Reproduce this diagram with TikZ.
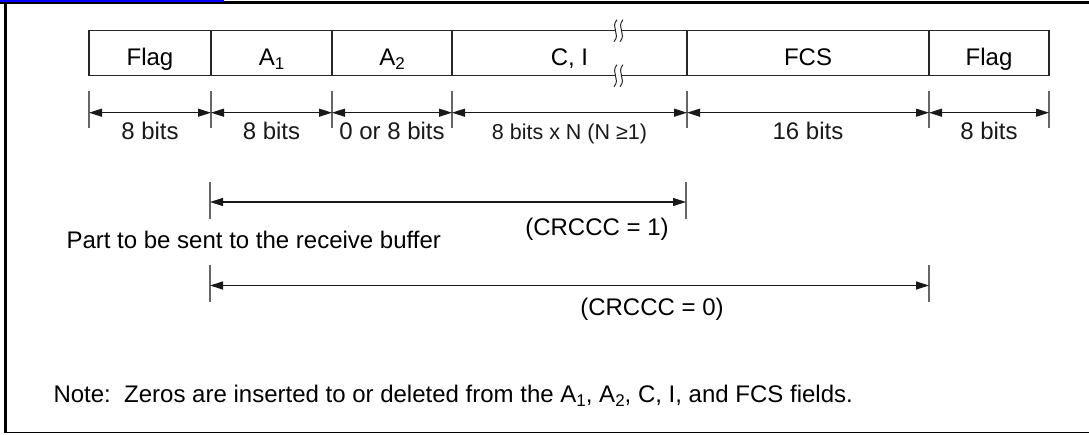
\documentclass[tikz,border=0pt]{standalone}
\usepackage{fontspec}
\setmainfont{Liberation Sans}
\usetikzlibrary{arrows.meta}

\newcommand{\bajo}[1]{\raisebox{-4.5pt}{\fontsize{17}{20}\selectfont #1}}

\begin{document}
\begin{tikzpicture}[x=1pt, y=-1pt,
    campo/.style={draw=black!85, line width=1.3pt, minimum height=45pt, inner sep=0pt,
        text height=24pt, text depth=0pt, font=\fontsize{24}{28}\selectfont},
    marca/.style={draw=black!60, line width=1.2pt},
    cota/.style={{Triangle[length=13pt,width=8pt]}-{Triangle[length=13pt,width=8pt]}, line width=1.2pt, black!90},
    etq/.style={anchor=base, font=\fontsize{24}{28}\selectfont},
    corte/.style={line width=1pt, black!85}]

    \useasboundingbox (0,0) rectangle (1089,435);

    % Marco
    \draw[line width=3pt] (5.3,433) -- (5.3,1.5);
    \draw[line width=3pt] (0,3) -- (1089,3);
    \draw[blue, line width=2pt] (0,1) -- (224,1);
    \draw[line width=1.5pt] (4,432.5) -- (1089,432.5);

    % Campos de la trama
    \node[campo, minimum width=122pt] (flagl) at (150,53.2) {Flag};
    \node[campo, minimum width=121pt] (addra) at (271.5,53.2) {A\bajo{1}};
    \node[campo, minimum width=120pt] (addrb) at (392,53.2) {A\bajo{2}};
    \node[campo, minimum width=235pt] (ctlinf) at (569.5,53.2) {C, I};
    \node[campo, minimum width=242pt] (fcs) at (808,53.2) {FCS};
    \node[campo, minimum width=120pt] (flagr) at (989,53.2) {Flag};

    % Corte del campo C, I
    \foreach \y in {30.7,75.7} {
        \fill[white] (615.5,\y-2) rectangle (621.5,\y+2);
        \draw[corte] (617,\y-11) .. controls (610,\y-3) and (621,\y+3) .. (614,\y+11);
        \draw[corte] (623,\y-11) .. controls (616,\y-3) and (627,\y+3) .. (620,\y+11);
    }

    % Longitudes
    \foreach \x [count=\i] in {89,211,332,452,687,929,1049} {
        \coordinate (m\i) at (\x,112.7);
        \draw[marca] (\x,90.7) -- (\x,128);
    }
    \draw[cota] (m1) -- node[etq, yshift=-27pt] (lenflagl) {8 bits} (m2);
    \draw[cota] (m2) -- node[etq, yshift=-27pt] (lenaddra) {8 bits} (m3);
    \draw[cota] (m3) -- node[etq, yshift=-27pt] (lenaddrb) {0 or 8 bits} (m4);
    \draw[cota] (m4) -- node[etq, yshift=-27pt, font=\fontsize{21.5}{26}\selectfont] (lenctlinf) {8 bits x N (N ≥1)} (m5);
    \draw[cota] (m5) -- node[etq, yshift=-27pt] (lenfcs) {16 bits} (m6);
    \draw[cota] (m6) -- node[etq, yshift=-27pt] (lenflagr) {8 bits} (m7);

    % Parte enviada al buffer
    \coordinate (ua) at (210,202);
    \coordinate (ub) at (686,202);
    \draw[marca] (210,182) -- (210,219);
    \draw[marca] (686,182) -- (686,219);
    \draw[cota] (ua) -- (ub);
    \node[etq] (crcuno) at (597,236) {(CRCCC = 1)};

    \node[etq, anchor=base west] (parte) at (63,249) {Part to be sent to the receive buffer};

    \coordinate (va) at (210,285.5);
    \coordinate (vb) at (929,285.5);
    \draw[marca] (210,265) -- (210,302);
    \draw[marca] (929,265) -- (929,302);
    \draw[cota] (va) -- (vb);
    \node[etq] (crccero) at (652,316) {(CRCCC = 0)};

    % Nota
    \node[etq, anchor=base west] (nota) at (50,402)
        {Note:\ \ Zeros are inserted to or deleted from the A\bajo{1}, A\bajo{2}, C, I, and FCS fields.};

\end{tikzpicture}
\end{document}
